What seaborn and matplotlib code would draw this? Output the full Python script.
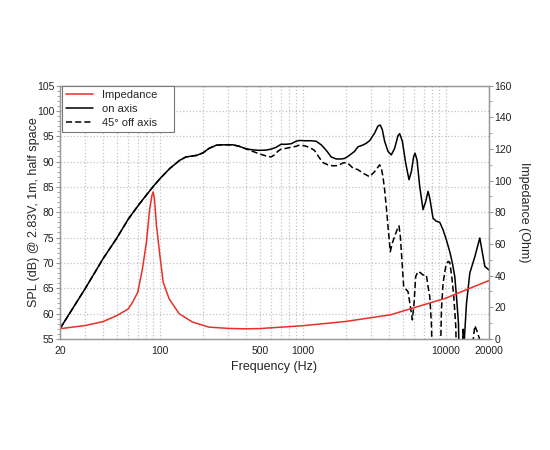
import matplotlib
matplotlib.use("Agg")
import matplotlib.pyplot as plt
import matplotlib.ticker as mticker
import seaborn as sns

# on axis SPL (dB)
freq_on = [20, 30, 40, 50, 60, 70, 80, 90, 100, 117, 137, 152, 180, 200, 221, 247, 275,
           323, 359, 400, 446, 496, 553, 599, 649, 704, 763, 827, 896, 946, 1025, 1142,
           1238, 1342, 1416, 1494, 1577, 1710, 1853, 1955, 2063, 2178, 2298, 2425, 2628,
           2774, 2927, 3172, 3347, 3476, 3591, 3728, 3934, 4151, 4381, 4623, 4749, 4958,
           5233, 5521, 5733, 5953, 6082, 6281, 6558, 6920, 7225, 7502, 7707, 8132, 8583,
           9057, 9555, 10085, 10642, 11110, 11536, 11850, 12240, 12500, 12900, 13200,
           13450, 13930, 14700, 15930, 17260, 18710, 20000]
spl_on = [57.0, 64.9, 70.8, 74.9, 78.6, 81.2, 83.3, 85.1, 86.6, 88.6, 90.2, 90.9, 91.2,
          91.7, 92.6, 93.2, 93.3, 93.3, 93.0, 92.5, 92.3, 92.2, 92.25, 92.45, 92.8, 93.4,
          93.4, 93.5, 94.0, 94.15, 94.1, 94.1, 94.0, 93.3, 92.6, 91.8, 90.9, 90.5, 90.5,
          90.6, 91.0, 91.5, 92.0, 92.9, 93.25, 93.6, 94.1, 95.6, 97.0, 97.2, 96.3, 94.0,
          92.0, 91.3, 92.6, 95.1, 95.5, 94.0, 89.7, 86.4, 88.0, 91.0, 91.65, 90.3, 85.1,
          80.5, 82.1, 84.1, 82.8, 78.8, 78.2, 78.0, 76.5, 74.5, 72.2, 69.9, 67.3, 63.4,
          58.1, 45, 45, 56.9, 54.8, 62.0, 68.0, 71.2, 74.9, 69.3, 68.6]

# 45 deg off axis SPL (dB)
freq_off = [20, 30, 40, 50, 60, 70, 80, 90, 100, 117, 137, 152, 180, 200, 221, 247, 275,
            323, 359, 400, 446, 496, 553, 599, 632, 667, 704, 763, 827, 896, 946, 1025,
            1111, 1205, 1306, 1379, 1494, 1620, 1756, 1903, 2009, 2120, 2237, 2425, 2628,
            2927, 3172, 3440, 3535, 3630, 3728, 3829, 3955, 4085, 4219, 4381, 4550, 4699,
            4802, 4906, 5067, 5291, 5436, 5643, 5828, 5986, 6149, 6385, 6666, 6920, 7304,
            7502, 7707, 7916, 8132, 9057, 9304, 9555, 9976, 10360, 10642, 10990, 11350,
            11725, 11978, 12850, 13200, 13490, 13800, 15510, 15930, 16360, 16810, 17270,
            17600, 20000]
spl_off = [57.0, 64.9, 70.8, 74.9, 78.6, 81.2, 83.3, 85.1, 86.6, 88.6, 90.2, 90.9, 91.2,
           91.7, 92.6, 93.2, 93.3, 93.3, 93.0, 92.5, 92.0, 91.5, 91.1, 90.9, 91.3, 92.0,
           92.45, 92.6, 92.8, 93.0, 93.25, 93.1, 92.8, 92.2, 90.7, 89.8, 89.35, 89.15,
           89.2, 89.7, 89.8, 89.35, 88.7, 88.4, 87.7, 87.0, 88.0, 89.35, 88.7, 87.0, 84.4,
           81.1, 76.5, 72.2, 73.9, 75.2, 76.5, 77.3, 75.2, 71.25, 65.3, 64.7, 64.3, 61.4,
           58.75, 62.0, 67.3, 68.3, 68.0, 67.6, 67.6, 65.3, 63.4, 58.1, 45, 45, 60.7, 66.0,
           69.3, 70.3, 70.1, 67.3, 63.4, 57.4, 45, 45, 56.8, 54.8, 45, 54.8, 57.6, 56.8,
           55.8, 54.8, 45, 45]

# impedance (Ohm)
freq_imp = [20, 30, 40, 50, 60, 64.3, 70, 75.5, 80.5, 84.9, 88, 89.7, 91.6, 94.6, 100,
            105.4, 116.1, 136.5, 169, 221, 300, 400, 500, 632, 1000, 2000, 4100, 6380,
            10000, 14300, 20000]
imp = [6.4, 8.4, 10.9, 14.7, 18.9, 23.0, 29.4, 44.2, 61.1, 82.2, 90.6, 92.8, 88.3, 71.6,
       52.6, 35.8, 25.2, 15.8, 10.6, 7.4, 6.6, 6.3, 6.5, 7.1, 8.3, 11, 15.2, 20.4, 25.7,
       31.5, 36.8]

x_ticks = [20, 100, 500, 1000, 10000, 20000]

sns.set_style("white")
plt.rcParams["font.family"] = ["Liberation Sans", "DejaVu Sans"]

fig = plt.figure(figsize=(5.5, 4.5), dpi=100)
ax = fig.add_axes([0.109, 0.247, 0.780, 0.563])
ax2 = ax.twinx()

red = "#e8302a"
sns.lineplot(x=freq_on, y=spl_on, ax=ax, color="black", linewidth=1.1,
             estimator=None, sort=False, label="on axis", legend=False)
sns.lineplot(x=freq_off, y=spl_off, ax=ax, color="black", linewidth=1.1,
             linestyle=(0, (4, 2)), estimator=None, sort=False,
             label="45° off axis", legend=False)
sns.lineplot(x=freq_imp, y=imp, ax=ax2, color=red, linewidth=1.1,
             estimator=None, sort=False, label="Impedance", legend=False)

ax.set_xscale("log")
ax.set_xlim(20, 20000)
ax.set_ylim(55, 105)
ax2.set_ylim(0, 160)

ax.xaxis.set_major_locator(mticker.FixedLocator(x_ticks))
ax.xaxis.set_major_formatter(mticker.FixedFormatter([str(t) for t in x_ticks]))
ax.xaxis.set_minor_locator(mticker.LogLocator(base=10, subs=range(1, 10), numticks=20))
ax.xaxis.set_minor_formatter(mticker.NullFormatter())
ax.yaxis.set_major_locator(mticker.MultipleLocator(5))
ax.yaxis.set_minor_locator(mticker.MultipleLocator(1))
ax2.yaxis.set_major_locator(mticker.MultipleLocator(20))
ax2.yaxis.set_minor_locator(mticker.MultipleLocator(10))

grid_c = "#c4c4c4"
ax.grid(True, axis="x", which="both", linestyle=":", color=grid_c, linewidth=0.9)
ax.grid(True, axis="y", which="major", linestyle=":", color=grid_c, linewidth=0.9)
ax.set_axisbelow(True)

spine_c = "#999999"
for a in (ax, ax2):
    for s in a.spines.values():
        s.set_color(spine_c)
        s.set_linewidth(0.9)
    a.tick_params(which="major", length=3, width=0.8, color=spine_c,
                  labelsize=7.5, labelcolor="#222222", pad=1)
    a.tick_params(which="minor", length=2, width=0.6, color=spine_c)
ax.tick_params(axis="x", which="minor", length=0)
ax.tick_params(axis="x", which="major", pad=2)

ax.set_xlabel("Frequency (Hz)", fontsize=9, labelpad=4)
ax.set_ylabel("SPL (dB) @ 2.83V, 1m, half space", fontsize=9, labelpad=-2)
ax2.set_ylabel("Impedance (Ohm)", fontsize=9, rotation=270, labelpad=13)

h1, l1 = ax.get_legend_handles_labels()
h2, l2 = ax2.get_legend_handles_labels()
leg = ax2.legend(h2 + h1, l2 + l1, loc="upper left", mode="expand",
                 bbox_to_anchor=(0.004, 0.0, 0.262, 0.997), fontsize=8, frameon=True,
                 fancybox=False, framealpha=1, edgecolor="#777777",
                 borderaxespad=0, handlelength=2.5, labelspacing=0.35,
                 borderpad=0.35, handletextpad=0.8)
leg.get_frame().set_linewidth(0.8)

fig.savefig("out.png", dpi=100)
